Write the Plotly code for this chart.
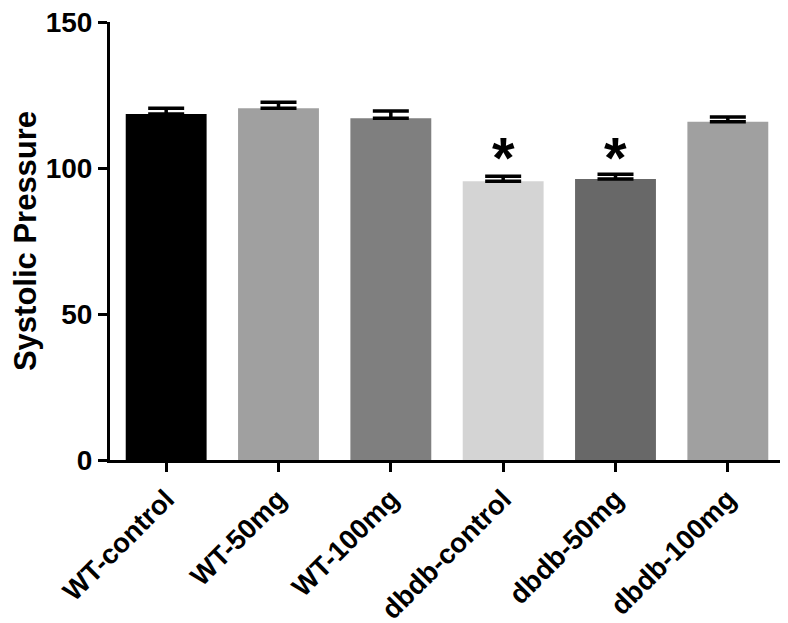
import plotly.graph_objects as go

categories = ["WT-control", "WT-50mg", "WT-100mg", "dbdb-control", "dbdb-50mg", "dbdb-100mg"]
values = [118.5, 120.5, 117.0, 95.5, 96.2, 115.8]
errors = [2.0, 2.0, 2.5, 1.7, 1.7, 1.7]
colors = ["#000000", "#a0a0a0", "#7f7f7f", "#d4d4d4", "#686868", "#a0a0a0"]
sig_categories = ["dbdb-control", "dbdb-50mg"]
sig_y = [103.5, 103.5]
y_ticks = [0, 50, 100, 150]

FONT = "Liberation Sans, Arial"

fig = go.Figure()
fig.add_trace(go.Bar(
    x=categories, y=values,
    marker=dict(color=colors, line=dict(width=0)),
    width=0.72,
    error_y=dict(type="data", array=errors, arrayminus=[0]*len(errors), symmetric=False,
                 color="black", thickness=3.5, width=18),
))
for c, yv in zip(sig_categories, sig_y):
    fig.add_annotation(x=c, y=yv, text="*", showarrow=False,
                       font=dict(size=58, color="black", family=FONT, weight="bold"),
                       yanchor="middle")

fig.update_layout(
    template="none",
    width=780, height=615,
    margin=dict(l=102, r=4, t=14, b=163, pad=0),
    plot_bgcolor="white", paper_bgcolor="white",
    showlegend=False,
    font=dict(family=FONT, color="black"),
    xaxis=dict(range=[-0.5, 5.5], showline=True, linecolor="black", linewidth=3,
               automargin=False, showgrid=False, zeroline=False,
               ticks="outside", ticklen=9, tickwidth=3, tickcolor="black",
               ticklabeloverflow="allow",
               tickangle=-45, tickfont=dict(size=27.5, family=FONT, weight="bold")),
    yaxis=dict(range=[0, 150], tickvals=y_ticks, showline=True, linecolor="black", linewidth=3,
               automargin=False, ticklabeloverflow="allow",
               ticks="outside", ticklen=9, tickwidth=3, tickcolor="black",
               showgrid=False, zeroline=False,
               tickfont=dict(size=28, family=FONT, weight="bold"),
               title=dict(text="Systolic Pressure",
                          font=dict(size=31, family=FONT, weight="bold"), standoff=10)),
)
fig.write_html("out.html")
